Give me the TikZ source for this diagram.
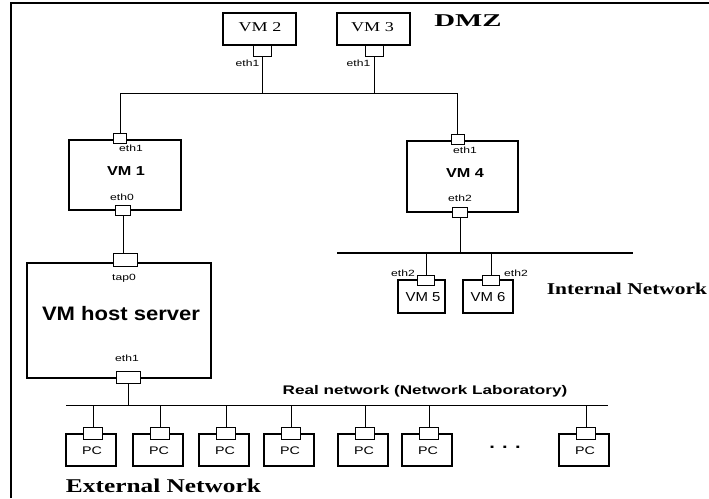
\documentclass[tikz,border=0pt]{standalone}
\usepackage{fontspec}
\setmainfont{Liberation Serif}
\setsansfont{Liberation Sans}
\newcommand\myfs[1]{\fontsize{#1}{#1}\selectfont}
\begin{document}
\begin{tikzpicture}[x=1pt,y=-1pt,
  box/.style={draw,line width=2pt,inner sep=0pt,fill=white},
  port/.style={draw,line width=0.9pt,inner sep=0pt,fill=white},
  wire/.style={line width=1pt},
  bus/.style={line width=1.6pt},
  eth/.style={inner sep=0pt,font=\sffamily\myfs{9},xscale=1.35},
  vmserif/.style={inner sep=0pt,font=\myfs{13.5},xscale=1.34},
  vmbold/.style={inner sep=0pt,font=\sffamily\bfseries\myfs{13},xscale=1.25},
  vmsmall/.style={inner sep=0pt,font=\sffamily\myfs{13},xscale=1.15},
  pcbox/.style={box,minimum width=50pt,minimum height=32pt},
  pcport/.style={port,minimum width=19pt,minimum height=12pt},
  pclbl/.style={inner sep=0pt,font=\sffamily\myfs{11},xscale=1.3},
  title/.style={inner sep=0pt,font=\bfseries\myfs{#1},xscale=1.3}
]
\useasboundingbox (0,0) rectangle (709,498);
\draw[line width=2.5pt] (11,498) -- (11,3) -- (709,3);

% DMZ
\node[box,minimum width=73pt,minimum height=32pt] (vm2) at (259.5,29) {};
\node[vmserif] (vm2t) at (260,27.5) {VM 2};
\node[port,minimum width=18pt,minimum height=11pt] (vm2p) at (262,50.5) {};
\node[eth] (vm2e) at (247.5,63) {eth1};

\node[box,minimum width=73pt,minimum height=32pt] (vm3) at (373.5,29) {};
\node[vmserif] (vm3t) at (372.5,27.5) {VM 3};
\node[port,minimum width=18pt,minimum height=11pt] (vm3p) at (374,50.5) {};
\node[eth] (vm3e) at (358.5,63) {eth1};

\node[inner sep=0pt,font=\bfseries\myfs{18},xscale=1.6] (dmz) at (468,20.5) {DMZ};

\coordinate (dmzL) at (120,93);
\coordinate (dmzR) at (457.5,93);

% VM1
\node[box,minimum width=112pt,minimum height=70pt] (vm1) at (125,175) {};
\node[port,minimum width=13pt,minimum height=10pt] (vm1p1) at (120,138) {};
\node[eth] (vm1e1) at (131,148) {eth1};
\node[vmbold] (vm1t) at (126,171) {VM 1};
\node[eth] (vm1e0) at (122,197) {eth0};
\node[port,minimum width=15pt,minimum height=10pt] (vm1p0) at (123,210) {};

% VM4
\node[box,minimum width=111pt,minimum height=71pt] (vm4) at (462.5,176.5) {};
\node[port,minimum width=13pt,minimum height=10pt] (vm4p1) at (457.5,139) {};
\node[eth] (vm4e1) at (465,150) {eth1};
\node[vmbold] (vm4t) at (465,173) {VM 4};
\node[eth] (vm4e2) at (460,198) {eth2};
\node[port,minimum width=15pt,minimum height=10pt] (vm4p2) at (460,212) {};

% host
\node[box,minimum width=184pt,minimum height=115pt] (host) at (119,320.5) {};
\node[port,minimum width=24pt,minimum height=13pt] (tap) at (125,259.5) {};
\node[eth] (tapl) at (124,278) {tap0};
\node[inner sep=0pt,font=\sffamily\bfseries\myfs{19.5},xscale=1.13] (hostt) at (121,314) {VM host server};
\node[eth] (hoste) at (127,358) {eth1};
\node[port,minimum width=24pt,minimum height=12pt] (hostp) at (128,377) {};

% internal
\coordinate (inL) at (337,253);
\coordinate (inR) at (633,253);
\node[box,minimum width=47pt,minimum height=33pt] (vm5) at (421,296.5) {};
\node[port,minimum width=17pt,minimum height=10pt] (vm5p) at (426,280) {};
\node[vmsmall] (vm5t) at (423,297) {VM 5};
\node[eth] (vm5e) at (403,273) {eth2};
\node[box,minimum width=50pt,minimum height=33pt] (vm6) at (488,296.5) {};
\node[port,minimum width=17pt,minimum height=10pt] (vm6p) at (491,280) {};
\node[vmsmall] (vm6t) at (488,297) {VM 6};
\node[eth] (vm6e) at (516,273) {eth2};
\node[title=16.5] (intl) at (627,289) {Internal Network};

% real network
\coordinate (reL) at (66,405.5);
\coordinate (reR) at (608,405.5);
\node[inner sep=0pt,font=\sffamily\bfseries\myfs{12.5},xscale=1.37] (rel) at (425,391) {Real network (Network Laboratory)};

\foreach \i/\x in {1/91,2/158,3/224,4/289,5/363,6/427,7/584}{
  \node[pcbox] (pc\i) at (\x,450) {};
  \node[pcport] (pcp\i) at (\x+2,433) {};
  \node[pclbl] (pct\i) at (\x+1,451) {PC};
  \draw[wire] (pcp\i.north) -- (pcp\i.north |- reL);
}
\node[inner sep=0pt,font=\sffamily\bfseries\myfs{16},xscale=1.25] (dots) at (505,447) {. . .};
\node[title=19.5] (extl) at (163.5,486) {External Network};

% connectors
\draw[wire] (vm2p.south) -- (vm2p.south |- dmzL);
\draw[wire] (vm3p.south) -- (vm3p.south |- dmzL);
\draw[wire] (vm1p1.north) -- (dmzL) -- (dmzR) -- (vm4p1.north);
\draw[wire] (vm1p0.south) -- (vm1p0.south |- tap.north);
\draw[wire] (vm4p2.south) -- (vm4p2.south |- inL);
\draw[bus] (inL) -- (inR);
\draw[wire] (vm5p.north) -- (vm5p.north |- inL);
\draw[wire] (vm6p.north) -- (vm6p.north |- inL);
\draw[wire] (hostp.south) -- (hostp.south |- reL);
\draw[bus] (reL) -- (reR);
\end{tikzpicture}
\end{document}
